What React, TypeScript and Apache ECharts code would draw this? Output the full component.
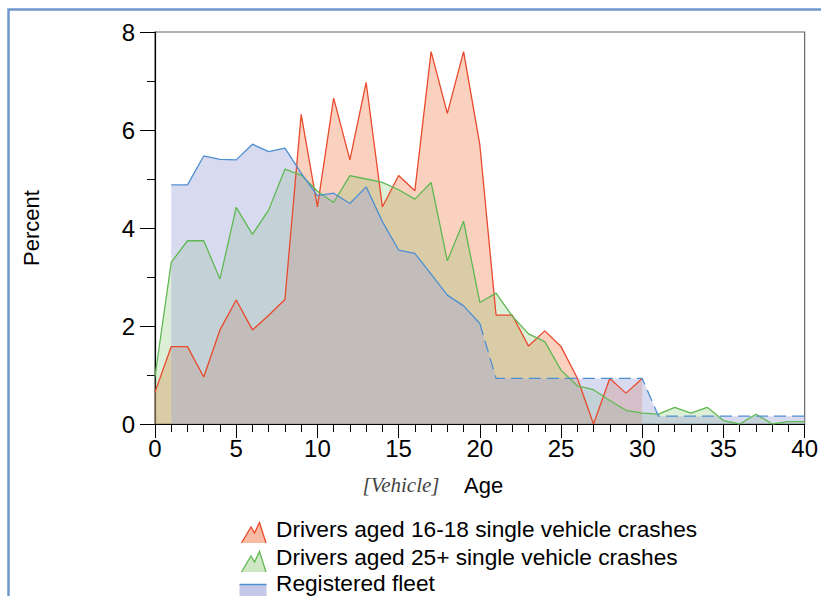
import React, { useEffect, useRef } from "react";
import * as echarts from "echarts";

// Vehicle age 0..30 — drivers aged 16-18, single vehicle crashes (%)
const youngCrashes = [
  0.65, 1.58, 1.58, 0.96, 1.92, 2.53, 1.92, 2.22, 2.54, 6.32, 4.43, 6.65, 5.39, 6.97, 4.43, 5.07,
  4.76, 7.6, 6.34, 7.6, 5.7, 2.22, 2.22, 1.59, 1.9, 1.58, 0.94, 0, 0.93, 0.63, 0.93,
];
// Vehicle age 0..40 — drivers aged 25+, single vehicle crashes (%)
const olderCrashes = [
  0.97, 3.3, 3.74, 3.74, 2.96, 4.42, 3.87, 4.37, 5.2, 5.08, 4.75, 4.52, 5.07, 5.0, 4.93, 4.78,
  4.59, 4.93, 3.33, 4.14, 2.48, 2.67, 2.2, 1.84, 1.68, 1.1, 0.78, 0.7, 0.48, 0.28, 0.22, 0.2,
  0.34, 0.22, 0.34, 0.07, 0, 0.2, 0, 0.05, 0.05,
];
// Registered fleet, vehicle age 1..20 (solid)
const fleetSolidStart = 1;
const fleetSolid = [
  4.88, 4.88, 5.47, 5.4, 5.39, 5.71, 5.56, 5.63, 5.12, 4.66, 4.71, 4.5, 4.84, 4.13, 3.55, 3.48,
  3.06, 2.63, 2.41, 2.05,
];
// Registered fleet, vehicle age 20..40 (dashed)
const fleetDashedStart = 20;
const fleetDashed = [
  2.05, 0.93, 0.93, 0.93, 0.93, 0.93, 0.93, 0.93, 0.93, 0.93, 0.93, 0.16, 0.16, 0.16, 0.16, 0.16,
  0.16, 0.16, 0.16, 0.16, 0.16,
];

const legendNames = [
  "Drivers aged 16-18 single vehicle crashes",
  "Drivers aged 25+ single vehicle crashes",
  "Registered fleet",
];

const FONT = "'Liberation Sans', Arial, Helvetica, sans-serif";
const RED = "#E9492C";
const GREEN = "#5FB852";
const BLUE = "#4E8FD2";

function pairs(values: number[], start: number) {
  return values.map((v, i) => [start + i, v]);
}

function mountain(dx: number, dy: number) {
  const pts = [
    [241.5, 543],
    [251, 527],
    [254.5, 533],
    [259.5, 522.5],
    [266, 543],
  ];
  return pts.map(([x, y]) => [x + dx, y + dy]);
}

export default function App() {
  const ref = useRef<HTMLDivElement>(null);
  useEffect(() => {
    if (!ref.current) return;
    const chart = echarts.init(ref.current, undefined, { renderer: "svg" });
    const redIcon = mountain(0, 0);
    const greenIcon = mountain(0, 29);
    chart.setOption({
      animation: false,
      backgroundColor: "#fff",
      grid: {
        left: 155,
        top: 32,
        right: 14,
        bottom: 172,
        show: true,
        borderColor: "#666",
        borderWidth: 1.2,
        backgroundColor: "transparent",
      },
      xAxis: {
        type: "value",
        min: 0,
        max: 40,
        interval: 5,
        name: "{v|[Vehicle]}    {a|Age}",
        nameLocation: "middle",
        nameGap: 50,
        nameTextStyle: {
          fontFamily: FONT,
          fontSize: 22,
          color: "#000",
          padding: [0, 94, 0, 0],
          rich: {
            v: {
              fontFamily: "'Liberation Serif', 'Times New Roman', serif",
              fontStyle: "italic",
              fontSize: 21,
              color: "#444",
            },
            a: { fontFamily: FONT, fontSize: 22, color: "#000" },
          },
        },
        axisLine: { show: true, onZero: false, lineStyle: { color: "#000", width: 1.2 } },
        axisTick: { show: true, inside: false, length: 14, lineStyle: { color: "#000" } },
        minorTick: { show: true, splitNumber: 5, length: 8, lineStyle: { color: "#000" } },
        splitLine: { show: false },
        axisLabel: { fontFamily: FONT, fontSize: 24, color: "#000", margin: 12 },
      },
      yAxis: {
        type: "value",
        min: 0,
        max: 8,
        interval: 2,
        name: "Percent",
        nameLocation: "middle",
        nameRotate: 90,
        nameGap: 113,
        nameTextStyle: { fontFamily: FONT, fontSize: 22, color: "#000" },
        axisLine: { show: true, lineStyle: { color: "#000", width: 1.2 } },
        axisTick: { show: true, inside: false, length: 15, lineStyle: { color: "#000" } },
        minorTick: { show: true, splitNumber: 2, length: 8, lineStyle: { color: "#000" } },
        splitLine: { show: false },
        axisLabel: { fontFamily: FONT, fontSize: 24, color: "#000", margin: 20 },
      },
      series: [
        {
          name: legendNames[0],
          type: "line",
          data: pairs(youngCrashes, 0),
          showSymbol: false,
          lineStyle: { color: RED, width: 1.3 },
          itemStyle: { color: RED },
          areaStyle: { color: "rgba(243,142,102,0.6)" },
        },
        {
          name: legendNames[1],
          type: "line",
          data: pairs(olderCrashes, 0),
          showSymbol: false,
          lineStyle: { color: GREEN, width: 1.3 },
          itemStyle: { color: GREEN },
          areaStyle: { color: "rgba(120,190,90,0.36)" },
        },
        {
          name: legendNames[2],
          type: "line",
          data: pairs(fleetSolid, fleetSolidStart),
          showSymbol: false,
          lineStyle: { color: BLUE, width: 1.3 },
          itemStyle: { color: BLUE },
          areaStyle: { color: "rgba(162,170,217,0.6)" },
        },
        {
          name: legendNames[2] + " (dashed)",
          type: "line",
          data: pairs(fleetDashed, fleetDashedStart),
          showSymbol: false,
          lineStyle: { color: BLUE, width: 1.3, type: [12, 6] },
          itemStyle: { color: BLUE },
          areaStyle: { color: "rgba(162,170,217,0.6)" },
        },
      ],
      graphic: [
        {
          type: "rect",
          shape: { x: 8.5, y: 9.5, width: 900, height: 700 },
          style: { fill: "none", stroke: "#6F97CC", lineWidth: 2.5 },
          silent: true,
        },
        {
          type: "polygon",
          shape: { points: redIcon },
          style: { fill: "#F8BBA3", stroke: "none" },
        },
        {
          type: "polyline",
          shape: { points: redIcon },
          style: { stroke: RED, lineWidth: 1.3, fill: "none" },
        },
        {
          type: "polygon",
          shape: { points: greenIcon },
          style: { fill: "#CFE8C4", stroke: "none" },
        },
        {
          type: "polyline",
          shape: { points: greenIcon },
          style: { stroke: GREEN, lineWidth: 1.3, fill: "none" },
        },
        {
          type: "rect",
          shape: { x: 239.5, y: 584, width: 27, height: 14 },
          style: { fill: "#C4C9E8", stroke: "none" },
        },
        {
          type: "line",
          shape: { x1: 239.5, y1: 584.5, x2: 266.5, y2: 584.5 },
          style: { stroke: BLUE, lineWidth: 1.5 },
        },
        {
          type: "text",
          x: 276,
          y: 529,
          style: { text: legendNames[0], font: `22.7px ${FONT}`, fill: "#000", verticalAlign: "middle" },
        },
        {
          type: "text",
          x: 276,
          y: 557,
          style: { text: legendNames[1], font: `22.7px ${FONT}`, fill: "#000", verticalAlign: "middle" },
        },
        {
          type: "text",
          x: 276,
          y: 583,
          style: { text: legendNames[2], font: `22.7px ${FONT}`, fill: "#000", verticalAlign: "middle" },
        },
      ],
    });
    return () => chart.dispose();
  }, []);
  return (
    <div
      ref={ref}
      style={{ position: "fixed", left: 0, top: 0, width: 821, height: 596, background: "#fff" }}
    />
  );
}
